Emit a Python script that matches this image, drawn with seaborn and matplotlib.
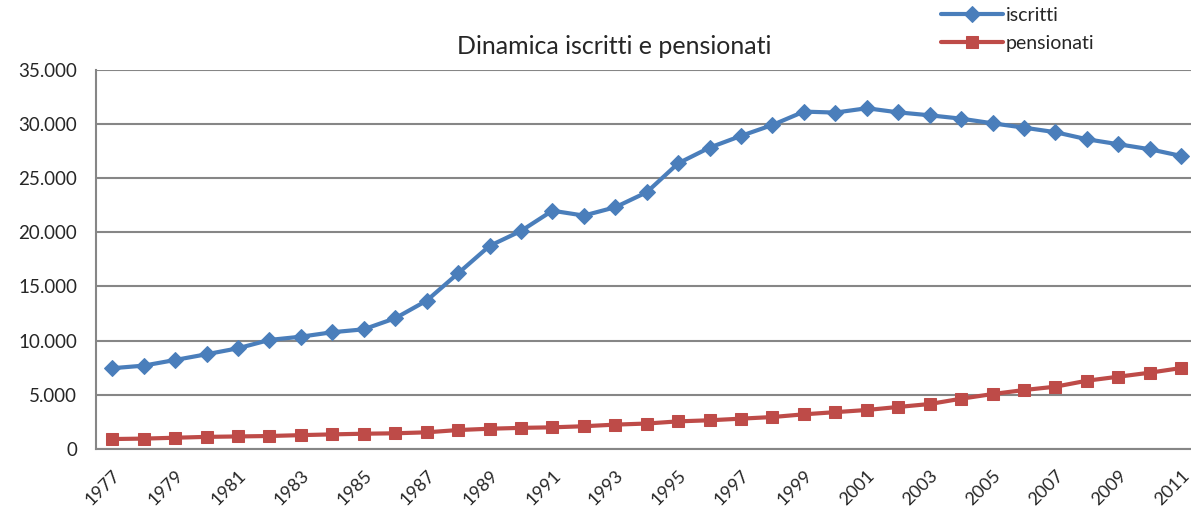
import numpy as np
import pandas as pd
import matplotlib.pyplot as plt
import matplotlib.ticker as mticker
import seaborn as sns

# Data
anni = list(range(1977, 2012))
iscritti = [7450, 7690, 8210, 8740, 9290, 10060, 10360, 10770, 11040, 12060,
            13680, 16200, 18730, 20110, 21980, 21530, 22300, 23680, 26350, 27800,
            28880, 29890, 31120, 31030, 31430, 31050, 30780, 30470, 30040, 29640,
            29220, 28570, 28110, 27650, 27030]
pensionati = [920, 960, 1040, 1120, 1160, 1200, 1280, 1350, 1410, 1450,
              1540, 1750, 1870, 1950, 2000, 2100, 2250, 2350, 2550, 2650,
              2800, 2950, 3200, 3400, 3600, 3880, 4150, 4640, 5070, 5440,
              5750, 6300, 6670, 7040, 7470]

df = pd.DataFrame({"pos": np.arange(len(anni)), "anno": anni,
                   "iscritti": iscritti, "pensionati": pensionati})

sns.set_style("white")
plt.rcParams['font.family'] = ['Lato', 'DejaVu Sans']

fig = plt.figure(figsize=(11.91, 5.17), dpi=100)
ax = fig.add_axes([0.081, 0.1315, 0.924, 0.734])

grey = "#868686"
sns.lineplot(data=df, x="pos", y="iscritti", ax=ax, color="#4A7EBB", lw=3,
             marker="D", markersize=8, markeredgecolor="#4A7EBB", label="iscritti")
sns.lineplot(data=df, x="pos", y="pensionati", ax=ax, color="#BE4B48", lw=3,
             marker="s", markersize=9, markeredgecolor="#BE4B48", label="pensionati")

ax.set_xlim(-0.5, len(anni) - 0.5)
ax.set_ylim(0, 35000)
ax.yaxis.set_major_locator(mticker.MultipleLocator(5000))
ax.yaxis.set_major_formatter(mticker.FuncFormatter(
    lambda v, p: "0" if v == 0 else f"{int(v):,}".replace(",", ".")))
ax.grid(axis="y", color=grey, lw=1.5)
ax.set_axisbelow(True)

ax.set_xticks(df["pos"][::2])
ax.set_xticklabels([str(a) for a in anni[::2]], rotation=45, ha="right",
                   rotation_mode="anchor", fontsize=13)
ax.set_xticks(np.arange(-0.5, len(anni)), minor=True)
ax.tick_params(axis="x", which="major", length=0, pad=13)
ax.tick_params(axis="x", which="minor", length=6, color=grey, width=1.5)
ax.tick_params(axis="y", length=6, color=grey, width=1.5, labelsize=13.5, pad=8)
ax.set_xlabel("")
ax.set_ylabel("")

for s in ["top", "right"]:
    ax.spines[s].set_visible(False)
for s in ["left", "bottom"]:
    ax.spines[s].set_color(grey)
    ax.spines[s].set_linewidth(1.5)

ax.legend_.remove()
h, l = ax.get_legend_handles_labels()
fig.legend(h, l, loc="upper left", bbox_to_anchor=(0.775, 1.02), frameon=False,
           fontsize=14, handlelength=3.2, handletextpad=0.15, labelspacing=0.55)

fig.text(0.516, 0.895, "Dinamica iscritti e pensionati", ha="center",
         va="baseline", fontsize=18)

fig.savefig("out.png", dpi=100)
